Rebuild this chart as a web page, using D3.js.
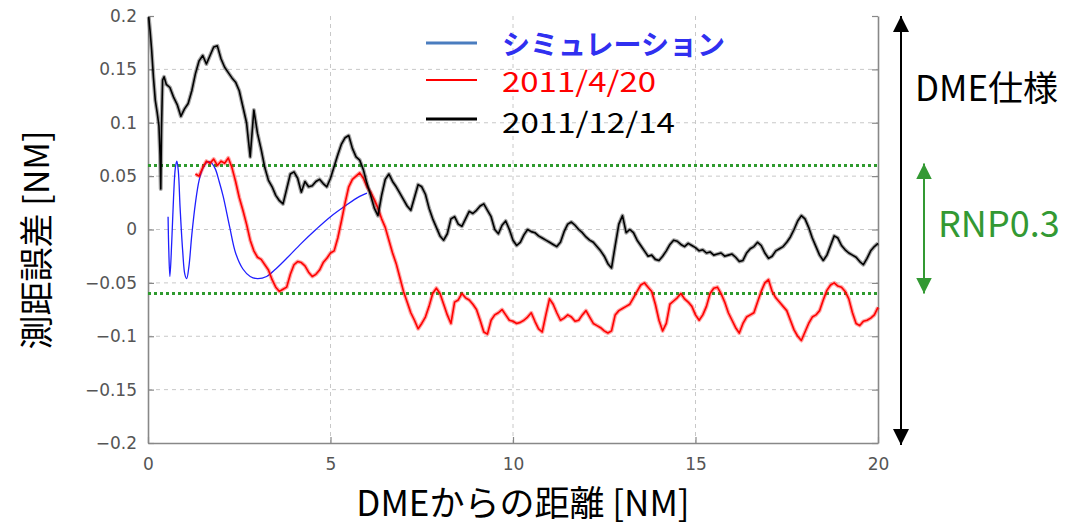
<!DOCTYPE html>
<html>
<head>
<meta charset="utf-8">
<script src="https://cdn.jsdelivr.net/npm/d3@7"></script>
<style>
  body { margin: 0; background: #fff; }
  svg { display: block; }
</style>
</head>
<body>
<svg id="chart" width="1079" height="528"></svg>
<script>
// Range error vs. distance from the DME station (NM)
const xTicks = [0, 5, 10, 15, 20];
const yTicks = [0.2, 0.15, 0.1, 0.05, 0, -0.05, -0.1, -0.15, -0.2];
const rnpLimit = 0.06;

const legendNames = ["シミュレーション", "2011/4/20", "2011/12/14"];

// Simulation curve: [distance NM, error NM]
const simulation = [
  [0.55, 0.012], [0.57, -0.020], [0.60, -0.044], [0.65, -0.012], [0.70, 0.030],
  [0.75, 0.058], [0.79, 0.064], [0.83, 0.055], [0.88, 0.020], [0.95, -0.020],
  [1.01, -0.042], [1.06, -0.046], [1.12, -0.035], [1.20, -0.005], [1.30, 0.025],
  [1.40, 0.046], [1.50, 0.057], [1.62, 0.063], [1.72, 0.063], [1.84, 0.057],
  [1.95, 0.045], [2.06, 0.031], [2.24, 0.002], [2.40, -0.022], [2.60, -0.037],
  [2.80, -0.044], [3.00, -0.046], [3.25, -0.044], [3.50, -0.037], [3.80, -0.027],
  [4.20, -0.013], [4.60, 0.000], [5.00, 0.012], [5.40, 0.022], [5.80, 0.031],
  [6.00, 0.034]
];

// Flight of 2011/12/14: steep start near the station, then 0.1 NM samples
const dec14Head = [
  [0.02, 0.199], [0.06, 0.185], [0.10, 0.168], [0.15, 0.142], [0.20, 0.121],
  [0.25, 0.110], [0.30, 0.097], [0.33, 0.070], [0.35, 0.038], [0.37, 0.095],
  [0.40, 0.140], [0.44, 0.143]
];
const dec14Start = 0.5;
const dec14 = [
  0.136, 0.133, 0.124, 0.117, 0.106, 0.113, 0.118, 0.130, 0.146, 0.158,
  0.163, 0.155, 0.163, 0.171, 0.172, 0.160, 0.152, 0.147, 0.142, 0.138,
  0.130, 0.115, 0.100, 0.068, 0.112, 0.090, 0.075, 0.058, 0.046, 0.040,
  0.032, 0.027, 0.024, 0.038, 0.052, 0.054, 0.048, 0.035, 0.045, 0.040,
  0.041, 0.045, 0.047, 0.043, 0.040, 0.048, 0.059, 0.070, 0.080, 0.086,
  0.088, 0.076, 0.068, 0.065, 0.056, 0.043, 0.032, 0.020, 0.013, 0.032,
  0.047, 0.052, 0.045, 0.040, 0.034, 0.028, 0.022, 0.018, 0.030, 0.042,
  0.040, 0.033, 0.020, 0.010, 0.002, -0.006, -0.010, -0.004, 0.010, 0.012,
  0.005, 0.003, 0.010, 0.017, 0.015, 0.018, 0.022, 0.024, 0.018, 0.012,
  0.000, -0.004, 0.004, 0.008, 0.000, -0.010, -0.015, -0.012, -0.005, 0.000,
  -0.002, -0.003, -0.006, -0.008, -0.010, -0.012, -0.014, -0.016, -0.012, -0.002,
  0.005, 0.007, 0.004, 0.000, -0.003, -0.007, -0.010, -0.012, -0.016, -0.020,
  -0.025, -0.032, -0.036, -0.015, 0.005, 0.013, -0.003, 0.000, -0.003, -0.010,
  -0.015, -0.020, -0.025, -0.024, -0.028, -0.029, -0.025, -0.020, -0.014, -0.010,
  -0.011, -0.014, -0.016, -0.013, -0.015, -0.017, -0.020, -0.019, -0.022, -0.021,
  -0.024, -0.023, -0.022, -0.025, -0.024, -0.023, -0.026, -0.030, -0.029, -0.022,
  -0.018, -0.016, -0.012, -0.015, -0.022, -0.027, -0.025, -0.020, -0.018, -0.016,
  -0.012, -0.007, 0.000, 0.008, 0.013, 0.010, 0.002, -0.008, -0.016, -0.024,
  -0.029, -0.024, -0.015, -0.006, -0.008, -0.015, -0.019, -0.022, -0.024, -0.026,
  -0.030, -0.033, -0.027, -0.020, -0.016, -0.013
];

// Flight of 2011/4/20: 0.1 NM samples
const apr20Start = 1.3;
const apr20 = [
  0.052, 0.050, 0.058, 0.064, 0.062, 0.066, 0.060, 0.064, 0.062, 0.067,
  0.058, 0.045, 0.030, 0.018, 0.005, -0.010, -0.020, -0.026, -0.028, -0.033,
  -0.038, -0.047, -0.054, -0.058, -0.056, -0.054, -0.042, -0.033, -0.030, -0.031,
  -0.034, -0.040, -0.044, -0.042, -0.038, -0.031, -0.027, -0.022, -0.020, -0.008,
  0.008, 0.025, 0.040, 0.047, 0.050, 0.053, 0.048, 0.040, 0.035, 0.028,
  0.020, 0.010, 0.002, -0.010, -0.022, -0.032, -0.045, -0.058, -0.068, -0.078,
  -0.085, -0.093, -0.088, -0.082, -0.072, -0.060, -0.055, -0.060, -0.070, -0.080,
  -0.088, -0.068, -0.066, -0.060, -0.064, -0.066, -0.070, -0.075, -0.085, -0.096,
  -0.098, -0.085, -0.080, -0.078, -0.075, -0.080, -0.085, -0.086, -0.088, -0.087,
  -0.085, -0.082, -0.078, -0.086, -0.093, -0.096, -0.080, -0.065, -0.070, -0.078,
  -0.085, -0.083, -0.080, -0.082, -0.086, -0.085, -0.080, -0.076, -0.082, -0.088,
  -0.090, -0.092, -0.095, -0.097, -0.095, -0.080, -0.076, -0.074, -0.072, -0.070,
  -0.064, -0.058, -0.052, -0.050, -0.054, -0.058, -0.070, -0.085, -0.095, -0.088,
  -0.070, -0.067, -0.064, -0.060, -0.065, -0.068, -0.072, -0.080, -0.085, -0.080,
  -0.072, -0.060, -0.055, -0.054, -0.060, -0.068, -0.078, -0.085, -0.092, -0.097,
  -0.088, -0.082, -0.080, -0.078, -0.068, -0.058, -0.050, -0.047, -0.058, -0.064,
  -0.068, -0.072, -0.076, -0.085, -0.094, -0.100, -0.104, -0.096, -0.088, -0.082,
  -0.080, -0.076, -0.066, -0.057, -0.052, -0.050, -0.053, -0.054, -0.058, -0.065,
  -0.078, -0.088, -0.090, -0.086, -0.085, -0.083, -0.080, -0.073
];

const step = 0.1;
const toPoints = (start, vals) => vals.map((v, i) => [+(start + i * step).toFixed(2), v]);
const dec14Points = dec14Head.concat(toPoints(dec14Start, dec14));
const apr20Points = toPoints(apr20Start, apr20);

const svg = d3.select("#chart");
const W = 1079, H = 528;
svg.append("rect").attr("width", W).attr("height", H).attr("fill", "#fff");

const x = d3.scaleLinear().domain([0, 20]).range([148, 878]);
const y = d3.scaleLinear().domain([-0.2, 0.2]).range([443, 16]);

const tickFont = "'DejaVu Sans', sans-serif";
const jpFont = "'Noto Sans CJK JP', 'Noto Sans', sans-serif";
const axisColor = "#888";

// Grid
const grid = svg.append("g");
grid.selectAll("line.gy").data(yTicks.filter(t => Math.abs(t) < 0.2)).join("line")
  .attr("x1", x(0)).attr("x2", x(20))
  .attr("y1", d => y(d)).attr("y2", d => y(d))
  .attr("stroke", "#c8c8c8").attr("stroke-width", 1).attr("stroke-dasharray", "4,4");
grid.selectAll("line.gx").data(xTicks.filter(t => t > 0 && t < 20)).join("line")
  .attr("x1", d => x(d)).attr("x2", d => x(d))
  .attr("y1", y(0.2)).attr("y2", y(-0.2))
  .attr("stroke", "#c8c8c8").attr("stroke-width", 1).attr("stroke-dasharray", "4,4");

// Axes with inward ticks
const fmt = d => d < 0 ? "\u2212" + Math.abs(d) : String(d);
const styleAxis = g => {
  g.select(".domain").attr("stroke", axisColor).attr("stroke-width", 1.6);
  g.selectAll(".tick line").attr("stroke", axisColor).attr("stroke-width", 1.2);
  g.selectAll(".tick text").attr("fill", "#555").attr("font-family", tickFont).attr("font-size", 17);
};
svg.append("g").attr("transform", `translate(${x(0)},0)`)
  .call(d3.axisLeft(y).tickValues(yTicks).tickFormat(fmt).tickSizeInner(-6).tickSizeOuter(0).tickPadding(11))
  .call(styleAxis);
svg.append("g").attr("transform", `translate(${x(20)},0)`)
  .call(d3.axisRight(y).tickValues(yTicks).tickFormat("").tickSizeInner(-6).tickSizeOuter(0))
  .call(styleAxis);
svg.append("g").attr("transform", `translate(0,${y(-0.2)})`)
  .call(d3.axisBottom(x).tickValues(xTicks).tickFormat(d3.format("d")).tickSizeInner(-6).tickSizeOuter(0).tickPadding(15))
  .call(styleAxis);

// RNP0.3 limits
svg.selectAll("line.rnp").data([rnpLimit, -rnpLimit]).join("line")
  .attr("x1", x(0)).attr("x2", x(20))
  .attr("y1", d => y(d)).attr("y2", d => y(d))
  .attr("stroke", "#2e9a2e").attr("stroke-width", 3).attr("stroke-dasharray", "3,3");

// Series
const line = d3.line().x(d => x(d[0])).y(d => y(d[1]));
svg.append("path").datum(simulation)
  .attr("d", line.curve(d3.curveCatmullRom)).attr("fill", "none")
  .attr("stroke", "#1f1fff").attr("stroke-width", 1.3);

// Measured flights: soft wide stroke under a sharp core gives the fuzzy trace look
const rough = d3.line().x(d => x(d[0])).y(d => y(d[1]));
const drawTrace = (pts, color) => {
  svg.append("path").datum(pts)
    .attr("d", rough).attr("fill", "none")
    .attr("stroke", color).attr("stroke-opacity", 0.35).attr("stroke-width", 4)
    .attr("stroke-linejoin", "round");
  svg.append("path").datum(pts)
    .attr("d", rough).attr("fill", "none")
    .attr("stroke", color).attr("stroke-width", 1.6).attr("stroke-linejoin", "round");
};
drawTrace(apr20Points, "#ff0000");
drawTrace(dec14Points, "#000000");

// Legend
const legend = [
  { name: legendNames[0], swatch: "#4a7dbf", sw: 3, text: "#3030f0", ly: 43, ty: 55, weight: "bold", len: 223 },
  { name: legendNames[1], swatch: "#ff0000", sw: 2, text: "#ff0000", ly: 80, ty: 92, weight: "normal", len: 154 },
  { name: legendNames[2], swatch: "#000000", sw: 3, text: "#000000", ly: 119, ty: 133, weight: "normal", len: 173 }
];
const lg = svg.append("g");
lg.selectAll("line").data(legend).join("line")
  .attr("x1", 426).attr("x2", 477).attr("y1", d => d.ly).attr("y2", d => d.ly)
  .attr("stroke", d => d.swatch).attr("stroke-width", d => d.sw);
lg.selectAll("text").data(legend).join("text")
  .attr("x", 502).attr("y", d => d.ty)
  .attr("fill", d => d.text).attr("font-family", jpFont).attr("font-size", 28)
  .attr("font-weight", d => d.weight)
  .attr("textLength", d => d.len).attr("lengthAdjust", "spacingAndGlyphs")
  .text(d => d.name);

// Axis titles
svg.append("text").attr("x", 523).attr("y", 516).attr("text-anchor", "middle")
  .attr("font-family", jpFont).attr("font-size", 35).attr("fill", "#000")
  .text("DMEからの距離 [NM]");
svg.append("text").attr("transform", "translate(49,240) rotate(-90)").attr("text-anchor", "middle")
  .attr("font-family", jpFont).attr("font-size", 34).attr("fill", "#000")
  .text("測距誤差 [NM]");

// Double-headed arrows marking the DME specification and RNP0.3 bands
const defs = svg.append("defs");
const marker = (id, color) => {
  defs.append("marker").attr("id", id).attr("viewBox", "0 0 10 10")
    .attr("refX", 10).attr("refY", 5).attr("markerWidth", 8).attr("markerHeight", 8)
    .attr("markerUnits", "strokeWidth").attr("orient", "auto-start-reverse")
    .append("path").attr("d", "M0,0 L10,5 L0,10 Z").attr("fill", color);
};
marker("arrowK", "#000");
marker("arrowG", "#339933");
svg.append("line").attr("x1", 901).attr("x2", 901).attr("y1", y(0.2)).attr("y2", y(-0.2) + 2)
  .attr("stroke", "#000").attr("stroke-width", 2)
  .attr("marker-start", "url(#arrowK)").attr("marker-end", "url(#arrowK)");
svg.append("line").attr("x1", 924).attr("x2", 924).attr("y1", y(rnpLimit) - 2).attr("y2", y(-rnpLimit))
  .attr("stroke", "#339933").attr("stroke-width", 2)
  .attr("marker-start", "url(#arrowG)").attr("marker-end", "url(#arrowG)");
svg.append("text").attr("x", 915).attr("y", 101)
  .attr("font-family", jpFont).attr("font-size", 35).attr("fill", "#000")
  .text("DME仕様");
svg.append("text").attr("x", 938).attr("y", 237)
  .attr("font-family", jpFont).attr("font-size", 36).attr("fill", "#339933")
  .text("RNP0.3");
</script>
</body>
</html>
